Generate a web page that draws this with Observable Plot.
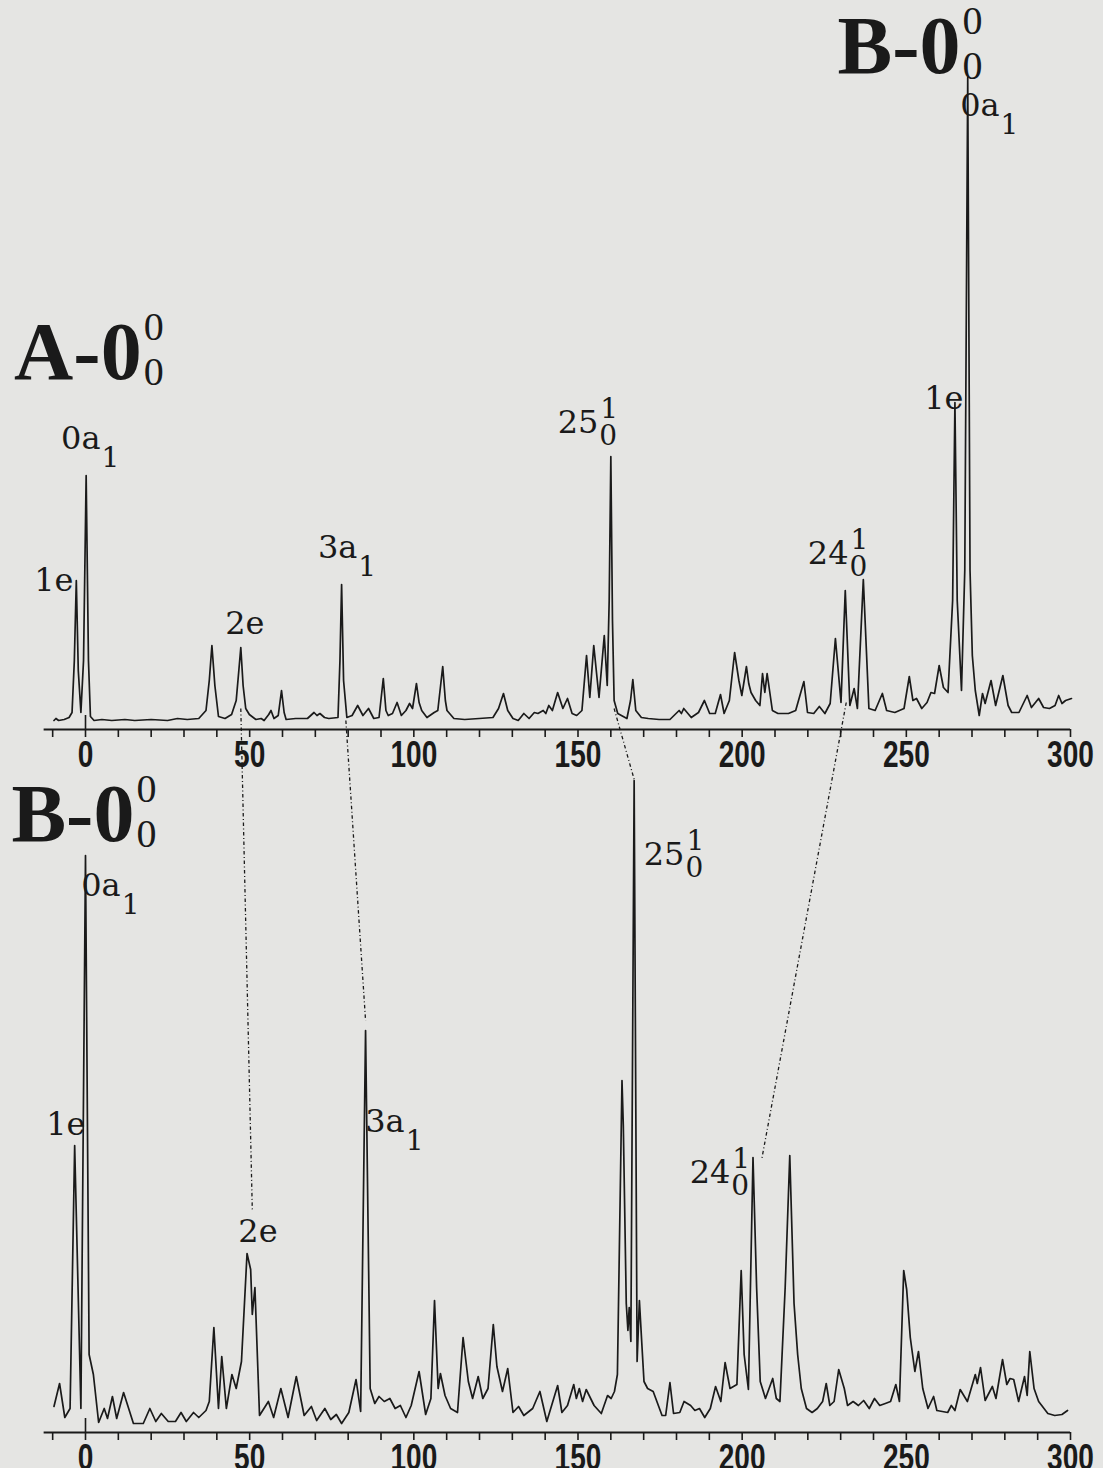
<!DOCTYPE html>
<html>
<head>
<meta charset="utf-8">
<script src="https://cdn.jsdelivr.net/npm/d3@7"></script>
<script src="https://cdn.jsdelivr.net/npm/@observablehq/plot@0.6"></script>
<style>
  html, body { margin: 0; padding: 0; background: #e5e5e3; }
  #chart svg { display: block; }
</style>
</head>
<body>
<div id="chart"></div>
<script>
// ---------- DATA ----------
// Top trace (excitation from A-0_0^0): relative wavenumber (cm^-1) and intensity (arb. units)
const aWavenumber = [-9.6,-9.0,-8.2,-6.5,-5.0,-4.1,-3.4,-2.8,-2.2,-1.4,-0.6,0.2,0.9,1.5,2.6,5,8,12,15,20,25,28,31,34.5,36.7,37.7,38.5,39.4,40.5,42.5,44.5,45.9,46.7,47.3,48.0,48.8,49.9,51.9,53.5,54.4,55.8,56.5,57.4,58.7,59.7,60.5,61.1,64,67.6,69.6,70.5,71.4,72.8,74.1,76.9,77.5,78.0,78.6,79.6,81.2,82.9,84.5,86.2,87.8,89.4,90.7,91.5,92.2,93.5,94.9,96.2,97.6,98.7,99.6,100.8,101.6,102.4,104,106.2,107.3,108.8,109.6,110.1,112.2,115.5,119.9,124.1,125.8,127.3,128.6,130.2,131.8,133.5,135.1,136.7,137.8,139.4,140.2,141.1,142.2,143.8,145.4,146.8,148.2,149.6,151.2,152.6,153.6,154.8,156.4,158.0,158.9,159.5,160.0,160.5,161.0,162.1,164.9,166.0,166.7,167.6,169.3,171.4,174.7,178,180.8,181.5,182.2,184.5,186.7,188.5,190.1,191.8,193.4,194.5,196.1,197.7,199.0,199.9,201.3,202.0,202.7,204.1,205.4,206.2,206.9,207.6,209.2,210.9,214.1,216.3,218.8,219.9,221.8,223.5,225.2,226.8,228.4,230.1,231.4,232.8,234.1,235.1,236.9,238.6,240.5,242.7,244.0,246.5,249.3,250.9,252.0,253.1,254.7,256.3,257.5,258.6,260.0,261.3,262.7,264.1,264.8,265.5,266.8,267.8,268.7,269.4,270.1,271.0,272.2,273.2,274.0,275.8,277.2,279.4,281.0,282.1,284.3,286.8,288.1,290.3,291.8,293.6,295.3,296.4,297.4,298.5,300.3];
const aIntensity  = [0,2,0,1,3,8,60,140,50,8,60,245,60,4,0,1,0,1,0,1,0,2,1,2,10,40,75,35,4,2,6,20,50,73,35,12,6,1,2,0,6,10,2,5,30,8,1,2,2,8,5,7,3,2,3,60,136,40,3,5,15,5,12,2,3,42,10,5,7,18,5,10,17,12,37,18,10,3,8,10,54,20,10,2,1,2,3,12,27,10,2,0,7,2,8,7,10,7,15,10,28,12,22,7,5,10,65,23,75,23,85,35,120,264,100,20,7,2,20,41,10,3,2,1,1,10,7,12,3,8,20,7,7,26,7,20,68,40,25,54,37,28,20,15,47,28,47,10,7,7,10,39,8,7,14,7,17,82,18,130,15,32,12,141,12,10,27,10,8,12,44,20,22,12,18,28,27,55,33,28,120,318,120,30,150,643,150,65,30,5,27,17,40,15,45,15,8,8,25,13,22,13,12,15,25,17,20,22];

// Bottom trace (excitation from B-0_0^0)
const bWavenumber = [-9.6,-7.9,-6.3,-4.7,-3.3,-1.4,0.0,1.1,2.4,4.0,5.7,6.7,8.2,9.5,11.6,14.6,17.6,19.6,21.4,23.1,25.2,27.4,29.1,30.7,32.9,34.5,36.7,37.7,39.1,40.5,41.5,42.9,44.6,45.9,47.5,49.2,50.3,50.8,51.6,53.0,55.7,57.3,59.5,61.7,64.2,66.6,68.8,70.4,72.9,74.7,76.4,78.0,80.2,82.4,83.8,85.3,86.7,88.1,89.4,91.0,92.7,94.3,95.9,97.6,99.2,101.6,103.6,105.2,106.3,107.4,108.1,109.5,111.2,113.3,115.0,116.6,117.9,119.6,121.0,122.6,124.2,125.3,127.0,128.6,130.2,131.9,133.5,136.2,138.4,140.5,143.8,145.1,146.8,148.7,149.5,150.4,151.4,152.5,154.9,157.1,159.0,160.1,161.1,162.0,163.4,163.8,164.7,165.2,165.6,166.1,167.1,168.0,168.7,169.4,170.1,171.2,172.9,175.6,176.7,178.0,179.1,181.0,182.3,184.3,185.6,187.0,188.6,190.3,191.9,193.5,194.8,196.3,198.4,199.7,200.6,201.9,203.3,204.4,205.5,207.1,209.3,210.4,211.5,213.1,214.5,215.8,216.9,218.0,219.6,221.3,222.9,224.5,225.6,226.7,228.0,229.4,231.1,232.1,233.8,235.4,237.0,238.7,240.3,241.9,243.6,245.2,246.8,247.9,249.2,250.1,251.2,252.6,253.7,255.0,256.6,258.3,259.3,262.6,263.7,264.8,266.4,268.6,271.0,271.6,272.6,274.0,276.2,277.3,279.3,280.6,281.6,282.7,284.2,286.0,286.8,287.6,288.9,290.3,293.1,295.2,297.4,299.1];
const bIntensity  = [19,42,8,17,280,17,570,71,51,3,17,7,29,7,33,2,2,17,4,12,4,4,13,4,13,8,15,24,98,17,69,17,51,37,64,172,156,111,138,10,24,8,37,8,49,10,19,5,17,6,11,2,13,46,14,395,37,22,29,24,27,17,20,8,20,54,11,27,125,37,52,30,17,13,88,44,27,49,27,37,101,59,34,57,13,19,10,17,34,4,40,13,20,41,27,37,24,36,20,12,30,27,34,51,345,300,122,95,118,84,645,64,125,84,44,37,34,10,10,43,12,13,24,20,15,17,8,17,39,24,63,37,41,155,71,36,268,138,44,27,47,27,24,138,270,122,71,37,17,13,17,24,42,20,24,56,37,20,24,20,25,17,27,20,22,24,41,24,155,136,88,54,74,37,17,29,15,13,20,15,36,24,51,42,58,25,39,27,66,41,47,46,24,49,30,74,37,24,12,10,11,15];

// Axis ticks and tick labels (cm^-1)
const tickValues = [-10,0,10,20,30,40,50,60,70,80,90,100,110,120,130,140,150,160,170,180,190,200,210,220,230,240,250,260,270,280,290,300];
const tickLabels = [0,50,100,150,200,250,300];
const axisExtent = [-12.6, 300];

// Peak assignments (junction wavenumber / label baseline intensity)
const labelPanel = ["A","A","A","A","A","A","A","A","B","B","B","B","B","B"];
const labelBase  = ["1e","0a","2e","3a","25","24","1e","0a","1e","0a","2e","3a","25","24"];
const labelSub   = ["","1","","1","0","0","","1","","1","","1","0","0"];
const labelSup   = ["","","","","1","1","","","","","","","1","1"];
const labelX     = [-3.65,4.57,54.5,82.8,156.2,232.4,267.4,278.4,0,10.7,58.5,97.2,182.4,196.4];
const labelY     = [130,272,87,163,288,157,312,605,291,530,184,294,561,243];

// Origin-band titles
const titlePanel = ["A","A","B"];
const titleBase  = ["A-0","B-0","B-0"];
const titleX     = [17.1,266.5,14.9];
const titleY     = [342,648,585];

// Correlation lines: band in top trace -> same band in bottom trace
const linkFromX = [47.3, 79.3, 161.0, 231.7];
const linkFromY = [12, 0, 12, 18];
const linkToX   = [50.8, 85.3, 167.2, 206.0];
const linkToY   = [216, 405, 645, 267];

// ---------- LAYOUT ----------
const OFFSET = {A: 705, B: 0};     // vertical stacking of the two traces
const AXIS_GAP = {A: 9, B: 7};
const INK = "#1a1a1a";
const BG = "#e5e5e3";
const SERIF = "'DejaVu Serif', 'Liberation Serif', serif";
const TITLE_SERIF = "'Liberation Serif', 'DejaVu Serif', serif";
const SANS = "'Liberation Sans', Arial, sans-serif";
const DIGIT_WIDTH = 15.6;

const spectrum = [
  ...aWavenumber.map((x, i) => ({panel: "A", x, y: aIntensity[i] + OFFSET.A})),
  ...bWavenumber.map((x, i) => ({panel: "B", x, y: bIntensity[i] + OFFSET.B}))
];
const axes = ["A", "B"].map(p => ({panel: p, y: OFFSET[p] - AXIS_GAP[p]}));
const ticks = axes.flatMap(a => tickValues.map(x => ({x, y: a.y})));
const zeroTicks = axes.map(a => ({x: 0, y: a.y}));
const tickText = axes.flatMap(a => tickLabels.map(x => ({x, y: a.y, t: String(x)})));
const labels = labelBase.map((t, i) => ({
  base: t, sub: labelSub[i], sup: labelSup[i],
  x: labelX[i], y: labelY[i] + OFFSET[labelPanel[i]]
}));
const titles = titleBase.map((t, i) => ({base: t, x: titleX[i], y: titleY[i] + OFFSET[titlePanel[i]]}));
const links = linkFromX.map((x1, i) => ({
  x1, y1: linkFromY[i] + OFFSET.A, x2: linkToX[i], y2: linkToY[i] + OFFSET.B
}));

const chart = Plot.plot({
  width: 1103,
  height: 1468,
  marginLeft: 85,
  marginRight: 33,
  marginTop: 0,
  marginBottom: 0,
  x: {domain: [0, 300], axis: null},
  y: {domain: [-43, 1425], axis: null},
  style: {background: BG, color: INK},
  marks: [
    // correlation (dotted) lines
    Plot.link(links, {x1: "x1", y1: "y1", x2: "x2", y2: "y2", stroke: INK, strokeWidth: 1.3, strokeDasharray: "3.5 2.5 1 2.5"}),
    // axes
    Plot.ruleY(axes, {y: "y", x1: axisExtent[0], x2: axisExtent[1], stroke: INK, strokeWidth: 2.2}),
    Plot.ruleX(ticks, {x: "x", y1: "y", y2: "y", insetBottom: -8, stroke: INK, strokeWidth: 1.6}),
    Plot.ruleX(zeroTicks, {x: "x", y1: "y", y2: "y", insetTop: -14, stroke: INK, strokeWidth: 1.6}),
    Plot.text(tickText, {x: "x", y: "y", text: "t", dy: 11, lineAnchor: "top", fontSize: 37, fontWeight: "bold", fontFamily: SANS, fill: INK, ariaDescription: "tick labels"}),
    // spectra
    Plot.line(spectrum, {x: "x", y: "y", z: "panel", stroke: INK, strokeWidth: 1.7, strokeLinejoin: "round"}),
    // peak labels
    Plot.text(labels, {x: "x", y: "y", text: "base", textAnchor: "end", lineAnchor: "bottom", fontSize: 32, fontFamily: SERIF, fill: INK}),
    Plot.text(labels.filter(d => d.sub && !d.sup), {x: "x", y: "y", text: "sub", textAnchor: "start", lineAnchor: "bottom", dx: 1, dy: 18, fontSize: 28, fontFamily: SERIF, fill: INK}),
    Plot.text(labels.filter(d => d.sub && d.sup), {x: "x", y: "y", text: "sub", textAnchor: "start", lineAnchor: "bottom", dx: 1, dy: 12, fontSize: 28, fontFamily: SERIF, fill: INK}),
    Plot.text(labels.filter(d => d.sup), {x: "x", y: "y", text: "sup", textAnchor: "start", lineAnchor: "bottom", dx: 2, dy: -15, fontSize: 28, fontFamily: SERIF, fill: INK}),
    // origin titles
    Plot.text(titles, {x: "x", y: "y", text: "base", textAnchor: "end", lineAnchor: "bottom", fontSize: 82, fontWeight: "bold", fontFamily: TITLE_SERIF, fill: INK}),
    Plot.text(titles, {x: "x", y: "y", text: () => "0", textAnchor: "start", lineAnchor: "bottom", dx: 2, dy: -39, fontSize: 40, fontFamily: TITLE_SERIF, fill: INK}),
    Plot.text(titles, {x: "x", y: "y", text: () => "0", textAnchor: "start", lineAnchor: "bottom", dx: 2, dy: 6, fontSize: 40, fontFamily: TITLE_SERIF, fill: INK})
  ]
});

// condensed tick-label digits (narrow sans look of the original axes)
const svg = d3.select(chart);
let tickTexts = svg.selectAll('g[aria-description="tick labels"] text');
if (tickTexts.empty()) {
  tickTexts = svg.selectAll("g").filter(function () { return this.getAttribute("font-size") === "37"; }).selectAll("text");
}
tickTexts.each(function () {
  const n = this.textContent.length;
  d3.select(this).attr("textLength", n * DIGIT_WIDTH).attr("lengthAdjust", "spacingAndGlyphs");
});

document.getElementById("chart").appendChild(chart);
</script>
</body>
</html>
